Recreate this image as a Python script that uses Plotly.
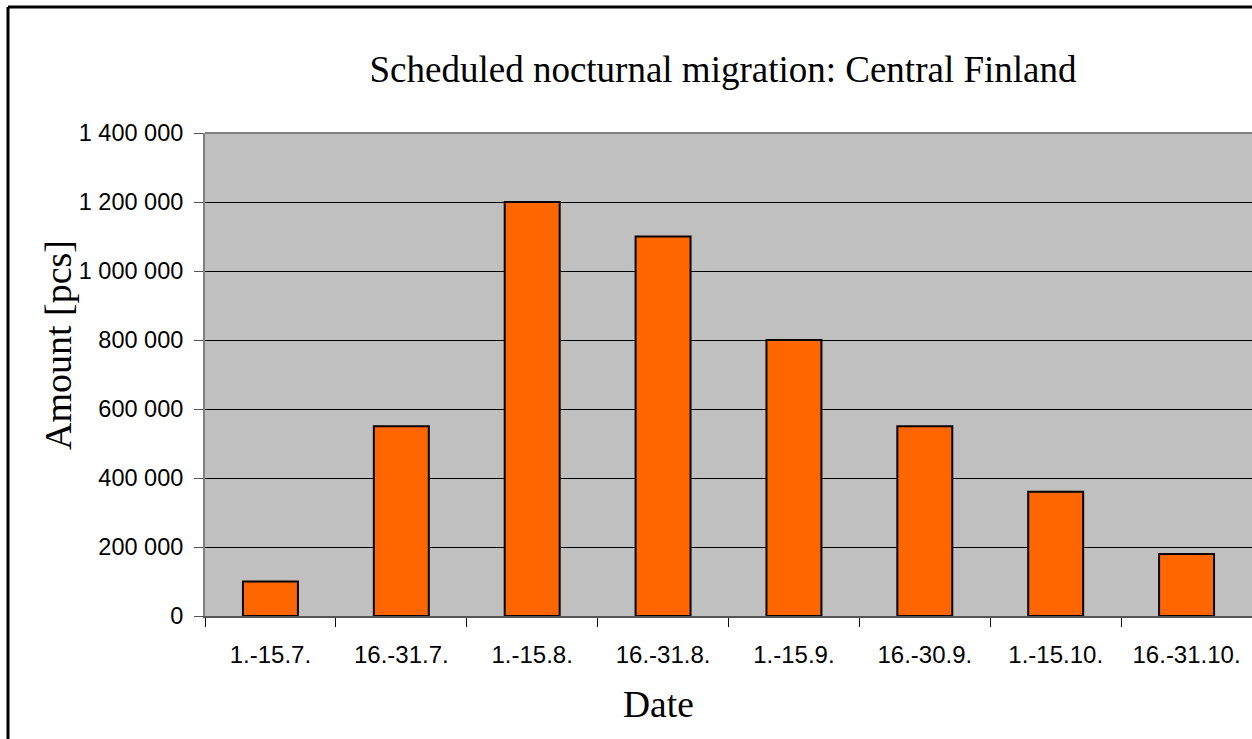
import plotly.graph_objects as go

# Half-month periods and counted migrants
periods = ["1.-15.7.", "16.-31.7.", "1.-15.8.", "16.-31.8.",
           "1.-15.9.", "16.-30.9.", "1.-15.10.", "16.-31.10."]
amounts = [100000, 550000, 1200000, 1100000, 800000, 550000, 360000, 180000]

y_ticks = [0, 200000, 400000, 600000, 800000, 1000000, 1200000, 1400000]
y_tick_text = ["0", "200 000", "400 000", "600 000", "800 000",
               "1 000 000", "1 200 000", "1 400 000"]

W, H = 1252, 739
L, R, T, B = 205, 0, 133, 123
SERIF = "Liberation Serif, Times New Roman, serif"

fig = go.Figure(go.Bar(
    x=periods, y=amounts,
    marker=dict(color="#FF6600", line=dict(color="black", width=2)),
))

fig.update_layout(
    width=W, height=H,
    margin=dict(l=L, r=R, t=T, b=B),
    paper_bgcolor="white",
    plot_bgcolor="#C0C0C0",
    bargap=0.58,
    showlegend=False,
    font=dict(family="Liberation Sans, Arial, sans-serif", size=24, color="black"),
    title=dict(
        text="Scheduled nocturnal migration: Central Finland",
        font=dict(family=SERIF, size=37, color="black"),
        x=723 / W, xanchor="center", xref="container",
        y=1 - 69 / H, yanchor="middle", yref="container",
    ),
)

fig.update_yaxes(
    range=[0, 1400000],
    tickvals=y_ticks, ticktext=y_tick_text,
    tickfont=dict(size=23.5),
    showgrid=True, gridcolor="black", gridwidth=1,
    showline=True, linecolor="#808080", linewidth=2,
    ticks="outside", ticklen=9, tickcolor="#555555", tickwidth=1,
    ticklabelstandoff=6,
    zeroline=False,
)
fig.update_xaxes(
    type="category",
    tickfont=dict(size=24),
    showline=True, linecolor="#555555", linewidth=2,
    ticks="outside", tickson="boundaries", ticklen=9, tickcolor="black", tickwidth=1,
    ticklabelstandoff=16,
    showgrid=False,
)

# Plot-area top edge in grey over the topmost gridline
fig.add_shape(type="line", xref="paper", yref="paper", x0=0, x1=1, y0=1, y1=1,
              line=dict(color="#808080", width=2), layer="above")

# Chart frame (left and top edges visible)
fx0 = (8 - L) / (W - L - R)
fy1 = 1 + (T - 7) / (H - T - B)
fy0 = -(B) / (H - T - B) - 0.01
fig.add_shape(type="line", xref="paper", yref="paper", x0=fx0, x1=fx0, y0=fy0, y1=fy1,
              line=dict(color="black", width=3))
fig.add_shape(type="line", xref="paper", yref="paper", x0=fx0, x1=1.01, y0=fy1, y1=fy1,
              line=dict(color="black", width=3))

# Axis titles
fig.add_annotation(text="Amount [pcs]", xref="paper", yref="paper",
                   x=(58 - L) / (W - L - R), y=(H - B - 345) / (H - T - B),
                   textangle=-90, showarrow=False, xanchor="center", yanchor="middle",
                   font=dict(family=SERIF, size=38, color="black"))
fig.add_annotation(text="Date", xref="paper", yref="paper",
                   x=(658 - L) / (W - L - R), y=-(704 - (H - B)) / (H - T - B),
                   showarrow=False, xanchor="center", yanchor="middle",
                   font=dict(family=SERIF, size=37.5, color="black"))

fig.write_html("out.html")
